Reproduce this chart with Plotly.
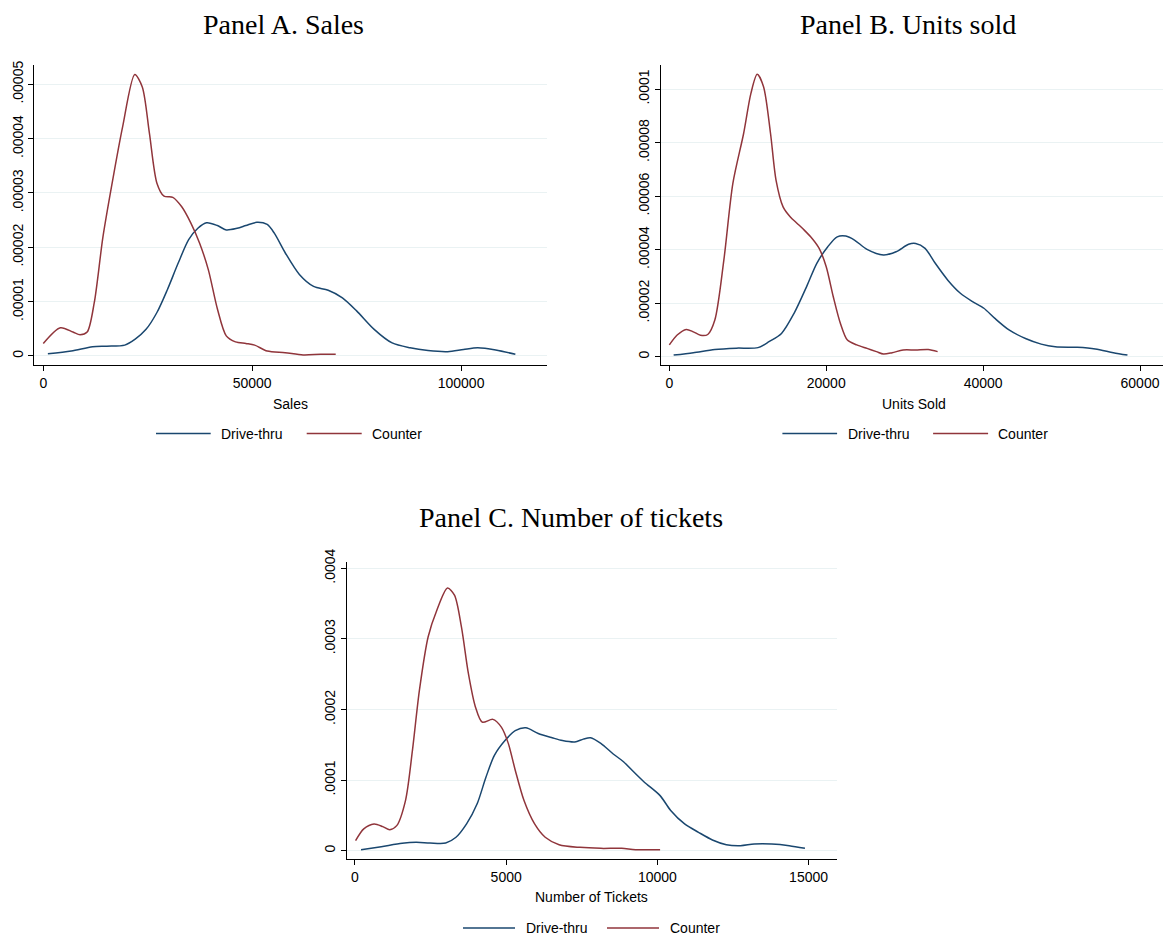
import plotly.graph_objects as go

W, H = 1166, 936

# ---------------- Data ----------------
# Panel A: Sales
a_counter_x = [0, 4100, 7100, 8800, 10500, 12200, 14300, 16900, 19000, 21900, 23700, 25400, 27200,
               28900, 31000, 33100, 35300, 37400, 39500, 41700, 43800, 46000, 48500, 50600, 53600,
               57900, 62200, 66400, 70000]
a_counter_y = [0.23e-5, 0.52e-5, 0.44e-5, 0.39e-5, 0.44e-5, 0.98e-5, 2.2e-5, 3.36e-5, 4.22e-5, 5.18e-5,
               4.95e-5, 4.1e-5, 3.18e-5, 2.94e-5, 2.92e-5, 2.75e-5, 2.45e-5, 2.08e-5, 1.59e-5, 0.86e-5,
               0.37e-5, 0.26e-5, 0.23e-5, 0.20e-5, 0.09e-5, 0.06e-5, 0.02e-5, 0.03e-5, 0.03e-5]
a_drive_x = [1100, 6700, 11800, 15200, 19500, 22000, 24600, 27200, 29700, 32300, 34800, 37000, 39100,
             41700, 43800, 46400, 48500, 51100, 53600, 55300, 57900, 61300, 64700, 68200, 71600, 75000,
             79200, 83500, 87800, 92100, 96800, 100600, 104000, 108300, 113000]
a_drive_y = [0.04e-5, 0.09e-5, 0.17e-5, 0.18e-5, 0.20e-5, 0.31e-5, 0.49e-5, 0.80e-5, 1.22e-5, 1.71e-5,
             2.14e-5, 2.35e-5, 2.45e-5, 2.40e-5, 2.32e-5, 2.35e-5, 2.40e-5, 2.46e-5, 2.42e-5, 2.26e-5,
             1.90e-5, 1.50e-5, 1.28e-5, 1.21e-5, 1.07e-5, 0.83e-5, 0.49e-5, 0.24e-5, 0.15e-5, 0.10e-5,
             0.08e-5, 0.12e-5, 0.15e-5, 0.11e-5, 0.03e-5]

# Panel B: Units sold
b_counter_x = [0, 1000, 2150, 3060, 3980, 4900, 5800, 6950, 8100, 9470, 10400, 11200, 12000, 12900,
               13600, 14500, 15400, 16300, 17200, 18200, 19100, 20000, 20900, 21800, 22700, 23900,
               25200, 26400, 27300, 28400, 29800, 31400, 33000, 34200]
b_counter_y = [0.44e-5, 0.81e-5, 1.02e-5, 0.93e-5, 0.80e-5, 0.83e-5, 1.37e-5, 3.61e-5, 6.48e-5, 8.34e-5,
               9.84e-5, 10.55e-5, 10.1e-5, 8.34e-5, 6.6e-5, 5.6e-5, 5.23e-5, 4.98e-5, 4.73e-5, 4.42e-5,
               4.05e-5, 3.36e-5, 2.24e-5, 1.25e-5, 0.62e-5, 0.44e-5, 0.31e-5, 0.19e-5, 0.10e-5, 0.15e-5,
               0.25e-5, 0.25e-5, 0.27e-5, 0.19e-5]
b_drive_x = [550, 3060, 5800, 8550, 11300, 12700, 14300, 15900, 17500, 18800, 20200, 21400, 22500,
             23600, 25200, 27300, 28900, 30500, 31400, 32600, 33900, 35500, 37100, 38700, 40100, 41500,
             43300, 45400, 47400, 49200, 52000, 54300, 56600, 58400]
b_drive_y = [0.06e-5, 0.15e-5, 0.27e-5, 0.32e-5, 0.34e-5, 0.56e-5, 0.87e-5, 1.62e-5, 2.62e-5, 3.49e-5,
             4.11e-5, 4.48e-5, 4.51e-5, 4.36e-5, 4.01e-5, 3.80e-5, 3.92e-5, 4.20e-5, 4.23e-5, 4.05e-5,
             3.49e-5, 2.86e-5, 2.37e-5, 2.05e-5, 1.81e-5, 1.43e-5, 1.00e-5, 0.68e-5, 0.47e-5, 0.37e-5,
             0.35e-5, 0.29e-5, 0.15e-5, 0.06e-5]

# Panel C: Number of tickets
c_counter_x = [20, 290, 630, 920, 1150, 1380, 1670, 1900, 2130, 2420, 2710, 3060, 3290, 3520, 3750,
               3980, 4210, 4560, 4840, 5070, 5300, 5590, 5940, 6290, 6750, 7440, 8130, 8820, 9280, 10090]
c_counter_y = [1.42e-5, 3.08e-5, 3.79e-5, 3.41e-5, 2.98e-5, 3.55e-5, 7.1e-5, 14.2e-5, 22.7e-5, 30.3e-5,
               34.1e-5, 37.2e-5, 36.2e-5, 31.7e-5, 25.1e-5, 20.4e-5, 18.2e-5, 18.6e-5, 17.5e-5, 15.2e-5,
               11.4e-5, 7.1e-5, 3.79e-5, 1.9e-5, 0.85e-5, 0.47e-5, 0.33e-5, 0.33e-5, 0.14e-5, 0.14e-5]
c_drive_x = [200, 870, 1560, 2020, 2480, 3000, 3340, 3690, 4040, 4330, 4610, 4960, 5300, 5650, 6060,
             6520, 6860, 7270, 7550, 7790, 8130, 8540, 8880, 9230, 9570, 10090, 10440, 10900, 11360,
             11820, 12280, 12750, 13200, 13780, 14360, 14880]
c_drive_y = [0.14e-5, 0.57e-5, 1.04e-5, 1.18e-5, 1.09e-5, 1.09e-5, 1.9e-5, 3.79e-5, 6.64e-5, 10.4e-5,
             13.5e-5, 15.6e-5, 17.0e-5, 17.4e-5, 16.6e-5, 16.0e-5, 15.6e-5, 15.4e-5, 15.8e-5, 16.0e-5,
             15.2e-5, 13.7e-5, 12.6e-5, 11.1e-5, 9.7e-5, 7.8e-5, 5.7e-5, 3.79e-5, 2.6e-5, 1.52e-5,
             0.85e-5, 0.71e-5, 0.95e-5, 0.95e-5, 0.71e-5, 0.33e-5]

a_xticks = [0, 50000, 100000]
a_yticks = [0, 0.00001, 0.00002, 0.00003, 0.00004, 0.00005]
a_ytext = ["0", ".00001", ".00002", ".00003", ".00004", ".00005"]
b_xticks = [0, 20000, 40000, 60000]
b_yticks = [0, 0.00002, 0.00004, 0.00006, 0.00008, 0.0001]
b_ytext = ["0", ".00002", ".00004", ".00006", ".00008", ".0001"]
c_xticks = [0, 5000, 10000, 15000]
c_yticks = [0, 0.0001, 0.0002, 0.0003, 0.0004]
c_ytext = ["0", ".0001", ".0002", ".0003", ".0004"]

titles = ["Panel A. Sales", "Panel B. Units sold", "Panel C. Number of tickets"]
xtitles = ["Sales", "Units Sold", "Number of Tickets"]
series_names = ["Drive-thru", "Counter"]

# ---------------- Styles ----------------
NAVY = "#1a476f"
MAROON = "#90353b"
GRID = "#eaf2f3"
SANS = "Liberation Sans, Arial, Helvetica, sans-serif"
SERIF = "Liberation Serif, Times New Roman, serif"


def px_x(p):
    return p / W


def px_y(p):
    return 1 - p / H


fig = go.Figure()

panels = [
    dict(x="x", y="y", dx=(34.3, 546.7), dy=(65, 365), xr=(-2150, 120500), yr=(-0.166e-5, 5.355e-5),
         xt=a_xticks, yt=a_yticks, ytt=a_ytext, data=(a_drive_x, a_drive_y, a_counter_x, a_counter_y)),
    dict(x="x2", y="y2", dx=(660.7, 1163), dy=(65, 365), xr=(-1100, 62930), yr=(-0.31e-5, 10.9e-5),
         xt=b_xticks, yt=b_yticks, ytt=b_ytext, data=(b_drive_x, b_drive_y, b_counter_x, b_counter_y)),
    dict(x="x3", y="y3", dx=(346.7, 836.7), dy=(562, 859.3), xr=(-274, 15930), yr=(-0.122e-4, 4.089e-4),
         xt=c_xticks, yt=c_yticks, ytt=c_ytext, data=(c_drive_x, c_drive_y, c_counter_x, c_counter_y)),
]

layout_axes = {}
for i, p in enumerate(panels):
    dxs, dys, cxs, cys = p["data"]
    fig.add_trace(go.Scatter(x=dxs, y=dys, mode="lines", line=dict(color=NAVY, width=1.5, shape="spline",
                                                                   smoothing=0.8),
                             xaxis=p["x"], yaxis=p["y"], showlegend=False, name=series_names[0]))
    fig.add_trace(go.Scatter(x=cxs, y=cys, mode="lines", line=dict(color=MAROON, width=1.5, shape="spline",
                                                                   smoothing=0.8),
                             xaxis=p["x"], yaxis=p["y"], showlegend=False, name=series_names[1]))
    suffix = "" if i == 0 else str(i + 1)
    xa = dict(domain=[px_x(p["dx"][0]), px_x(p["dx"][1])], range=list(p["xr"]), anchor="y" + suffix,
              automargin=False,
              showgrid=False, zeroline=False, showline=True, linecolor="#000", linewidth=1.2,
              ticks="outside", ticklen=5, tickcolor="#000", tickwidth=1.2,
              tickvals=p["xt"], ticktext=[str(v) for v in p["xt"]],
              tickfont=dict(family=SANS, size=14, color="#000"), fixedrange=True)
    ya = dict(domain=[px_y(p["dy"][1]), px_y(p["dy"][0])], range=list(p["yr"]), anchor="x" + suffix,
              automargin=False,
              showgrid=True, gridcolor=GRID, gridwidth=1, zeroline=False, showline=True,
              linecolor="#000", linewidth=1.2, ticks="outside", ticklen=5, tickcolor="#000", tickwidth=1.2,
              tickvals=p["yt"], ticktext=p["ytt"], tickangle=-90,
              tickfont=dict(family=SANS, size=14, color="#000"), fixedrange=True)
    layout_axes["xaxis" + suffix] = xa
    layout_axes["yaxis" + suffix] = ya

fig.update_layout(**layout_axes)

annotations = []
# Panel titles
for txt, cx, cy in zip(titles, [283, 908, 571], [24, 24, 517]):
    annotations.append(dict(text=txt, x=px_x(cx), y=px_y(cy), xref="paper", yref="paper",
                            xanchor="center", yanchor="middle", showarrow=False,
                            font=dict(family=SERIF, size=28, color="#000")))
# Axis titles
for txt, cx, cy in zip(xtitles, [290, 914, 591.7], [404, 404, 897]):
    annotations.append(dict(text=txt, x=px_x(cx), y=px_y(cy), xref="paper", yref="paper",
                            xanchor="center", yanchor="middle", showarrow=False,
                            font=dict(family=SANS, size=14, color="#000")))

# Legends (line keys + labels)
shapes = []
legends = [
    # (line1 x0, x1, text1 x, line2 x0, x1, text2 x, y)
    (156, 210.7, 219.3, 306.7, 361.7, 370, 433.5),
    (782.4, 837.1, 845.7, 933.1, 988.1, 996.4, 433.5),
    (463, 515, 524, 607, 659, 668, 928),
]
for l in legends:
    for (x0, x1, tx, col, name) in [(l[0], l[1], l[2], NAVY, series_names[0]),
                                    (l[3], l[4], l[5], MAROON, series_names[1])]:
        shapes.append(dict(type="line", xref="paper", yref="paper", x0=px_x(x0), x1=px_x(x1),
                           y0=px_y(l[6]), y1=px_y(l[6]), line=dict(color=col, width=1.5)))
        annotations.append(dict(text=name, x=px_x(tx), y=px_y(l[6]), xref="paper", yref="paper",
                                xanchor="left", yanchor="middle", showarrow=False,
                                font=dict(family=SANS, size=14, color="#000")))

fig.update_layout(width=W, height=H, margin=dict(l=0, r=0, t=0, b=0, autoexpand=False),
                  paper_bgcolor="white", plot_bgcolor="white", showlegend=False,
                  annotations=annotations, shapes=shapes)

fig.write_html("out.html")
